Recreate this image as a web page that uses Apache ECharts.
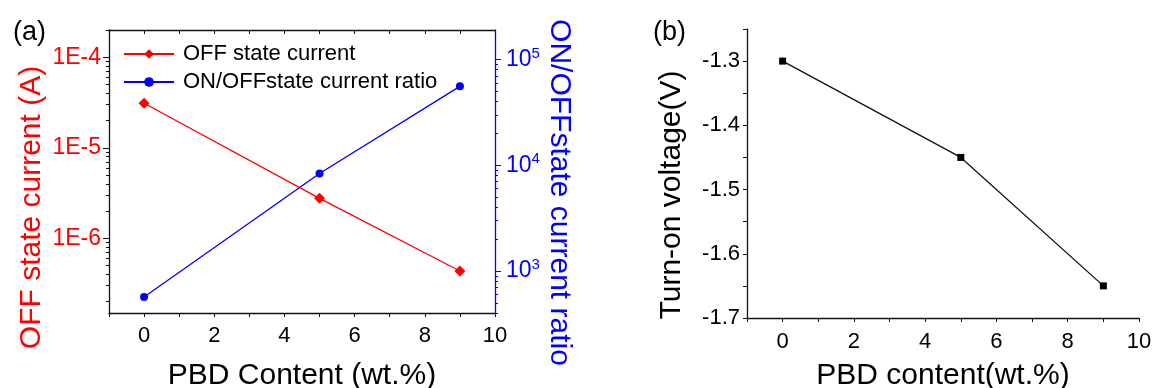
<!DOCTYPE html>
<html><head><meta charset="utf-8">
<script src="https://cdn.jsdelivr.net/npm/echarts@6/dist/echarts.min.js"></script>
<style>html,body{margin:0;padding:0;background:#fff}#c{width:1154px;height:388px}</style>
</head><body><div id="c"></div>
<script>
// ---- data ----
const pbdContent = [0, 5, 9];
const offCurrent = [3.11e-5, 2.77e-6, 4.36e-7];      // A (left log axis)
const onOffRatio = [566, 8340, 55700];               // right log axis
const turnOnVoltage = [-1.30, -1.45, -1.65];         // V (panel b)
const xTickLabels = [0, 2, 4, 6, 8, 10];
const leftMajorTicks = [1e-6, 1e-5, 1e-4];
const rightMajorTicks = [1e3, 1e4, 1e5];
const voltageTickLabels = [-1.7, -1.6, -1.5, -1.4, -1.3];
const voltageTicks = [-1.7, -1.65, -1.6, -1.55, -1.5, -1.45, -1.4, -1.35, -1.3, -1.25];
const minorMultipliers = [2, 3, 4, 5, 6, 7, 8, 9];

const F = 'Liberation Sans, Arial, sans-serif';
const RED = '#ff0000', BLUE = '#0000ff', BLACK = '#111';
const leftRange = [1.5e-7, 2e-4];
const rightRange = [400, 1.9e5];

function minorTicks(lo, hi) {
  const out = [];
  for (let e = Math.floor(Math.log10(lo)); e <= Math.ceil(Math.log10(hi)); e++) {
    minorMultipliers.forEach(m => {
      const v = m * Math.pow(10, e);
      if (v >= lo * 0.999 && v <= hi * 1.001) out.push(v);
    });
  }
  return out;
}
const pairs = (xs, ys) => xs.map((x, i) => [x, ys[i]]);

const chart = echarts.init(document.getElementById('c'), null, {renderer: 'canvas'});
const axisLineBlack = {show: true, onZero: false, lineStyle: {color: BLACK, width: 1.3}};

chart.setOption({
  animation: false,
  backgroundColor: '#fff',
  textStyle: {fontFamily: F},
  title: [
    {text: '(a)', left: 8, top: 14, textStyle: {fontFamily: F, fontSize: 27, fontWeight: 'normal', color: '#000'}},
    {text: '(b)', left: 648, top: 14, textStyle: {fontFamily: F, fontSize: 27, fontWeight: 'normal', color: '#000'}}
  ],
  legend: {
    left: 118, top: 38, orient: 'vertical',
    itemWidth: 50, itemHeight: 12, itemGap: 6,
    textStyle: {fontFamily: F, fontSize: 22, color: '#000', lineHeight: 22, padding: [0, 0, 0, 4]},
    data: ['OFF state current', 'ON/OFFstate current ratio']
  },
  grid: [
    {left: 109, top: 30, right: 659, bottom: 75, containLabel: false, outerBoundsMode: 'none'},
    {left: 747, top: 29, right: 15, bottom: 70, containLabel: false, outerBoundsMode: 'none'}
  ],
  xAxis: [
    {gridIndex: 0, type: 'value', min: -1, max: 10, interval: 1, position: 'bottom',
     axisLine: axisLineBlack, axisTick: {show: true, length: 4, lineStyle: {color: BLACK}},
     axisLabel: {customValues: xTickLabels, fontFamily: F, fontSize: 22, color: '#000', margin: 12},
     splitLine: {show: false},
     name: 'PBD Content (wt.%)', nameLocation: 'middle', nameGap: 48,
     nameTextStyle: {fontFamily: F, fontSize: 30, color: '#000'}},
    {gridIndex: 0, type: 'value', min: -1, max: 10, interval: 1, position: 'top',
     axisLine: axisLineBlack, axisTick: {show: true, inside: true, length: 4, lineStyle: {color: BLACK}},
     axisLabel: {show: false}, splitLine: {show: false}},
    {gridIndex: 1, type: 'value', min: -1, max: 10, interval: 1, position: 'bottom',
     axisLine: axisLineBlack, axisTick: {show: true, length: 4, lineStyle: {color: BLACK}},
     axisLabel: {customValues: xTickLabels, fontFamily: F, fontSize: 22, color: '#000', margin: 13},
     splitLine: {show: false},
     name: 'PBD content(wt.%)', nameLocation: 'middle', nameGap: 43,
     nameTextStyle: {fontFamily: F, fontSize: 30, color: '#000'}}
  ],
  yAxis: [
    {gridIndex: 0, type: 'log', logBase: 10, min: leftRange[0], max: leftRange[1], position: 'left',
     axisLine: axisLineBlack,
     axisTick: {show: true, length: 6, customValues: leftMajorTicks, lineStyle: {color: BLACK}},
     axisLabel: {customValues: leftMajorTicks, fontFamily: F, fontSize: 23, color: RED, margin: 8,
       formatter: v => '1E' + Math.round(Math.log10(v))},
     splitLine: {show: false}, minorTick: {show: false},
     name: 'OFF state current (A)', nameLocation: 'middle', nameGap: 62,
     nameTextStyle: {fontFamily: F, fontSize: 30, color: RED, padding: [0, 72, 0, 0]}},
    {gridIndex: 0, type: 'log', logBase: 10, min: rightRange[0], max: rightRange[1], position: 'right',
     axisLine: {show: true, onZero: false, lineStyle: {color: BLUE, width: 1.3}},
     axisTick: {show: true, length: 6, customValues: rightMajorTicks, lineStyle: {color: BLUE}},
     axisLabel: {customValues: rightMajorTicks, color: BLUE, margin: 11,
       formatter: v => '{b|10}{s|' + Math.round(Math.log10(v)) + '}',
       rich: {b: {fontFamily: F, fontSize: 23, color: BLUE},
              s: {fontFamily: F, fontSize: 15, color: BLUE, padding: [0, 0, 12, 0]}}},
     splitLine: {show: false},
     name: 'ON/OFFstate current ratio', nameLocation: 'middle', nameGap: 48, nameRotate: -90,
     nameTextStyle: {fontFamily: F, fontSize: 30, color: BLUE, padding: [0, 0, 0, 42]}},
    {gridIndex: 0, type: 'log', logBase: 10, min: leftRange[0], max: leftRange[1], position: 'left',
     axisLine: {show: false, onZero: false},
     axisTick: {show: true, length: 3, customValues: minorTicks(leftRange[0], leftRange[1]), lineStyle: {color: BLACK}},
     axisLabel: {show: false}, splitLine: {show: false}},
    {gridIndex: 0, type: 'log', logBase: 10, min: rightRange[0], max: rightRange[1], position: 'right',
     axisLine: {show: false, onZero: false},
     axisTick: {show: true, length: 3, customValues: minorTicks(rightRange[0], rightRange[1]), lineStyle: {color: BLUE}},
     axisLabel: {show: false}, splitLine: {show: false}},
    {gridIndex: 1, type: 'value', min: -1.7, max: -1.25, position: 'left',
     axisLine: axisLineBlack,
     axisTick: {show: true, length: 4, customValues: voltageTicks, lineStyle: {color: BLACK}},
     axisLabel: {customValues: voltageTickLabels, fontFamily: F, fontSize: 22, color: '#000', margin: 7,
       formatter: v => v.toFixed(1)},
     splitLine: {show: false},
     name: 'Turn-on voltage(V)', nameLocation: 'middle', nameGap: 60,
     nameTextStyle: {fontFamily: F, fontSize: 30, color: '#000', padding: [0, 43, 0, 0]}}
  ],
  series: [
    {name: 'OFF state current', type: 'line', xAxisIndex: 0, yAxisIndex: 0,
     data: pairs(pbdContent, offCurrent), symbol: 'diamond', symbolSize: 11,
     lineStyle: {color: RED, width: 1.3}, itemStyle: {color: RED}},
    {name: 'ON/OFFstate current ratio', type: 'line', xAxisIndex: 0, yAxisIndex: 1,
     data: pairs(pbdContent, onOffRatio), symbol: 'circle', symbolSize: 8,
     lineStyle: {color: BLUE, width: 1.3}, itemStyle: {color: BLUE}},
    {name: 'Turn-on voltage', type: 'line', xAxisIndex: 2, yAxisIndex: 4,
     data: pairs(pbdContent, turnOnVoltage), symbol: 'rect', symbolSize: 7,
     lineStyle: {color: BLACK, width: 1.3}, itemStyle: {color: '#000'}}
  ]
});
</script>
</body></html>
